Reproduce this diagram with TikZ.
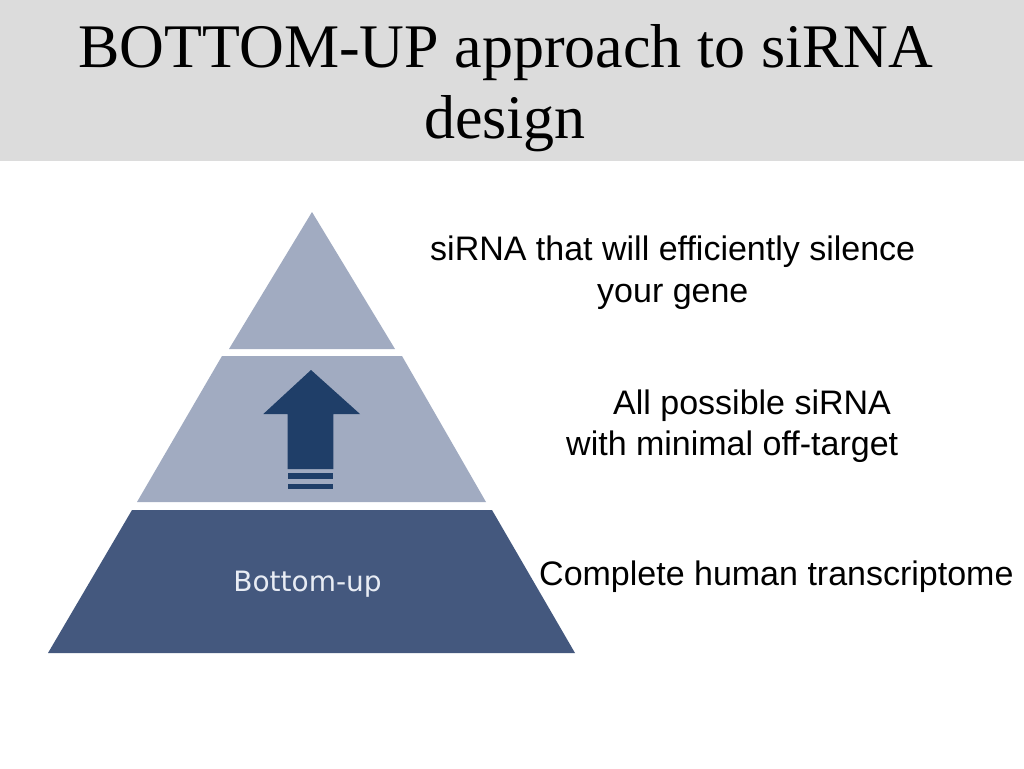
\documentclass[tikz,border=0pt]{standalone}
\usepackage{fontspec}
\setmainfont{Liberation Serif}
\newfontfamily\arialf{Liberation Sans}
\newfontfamily\dejavuf{DejaVu Sans}
\definecolor{bandgray}{RGB}{220,220,220}
\definecolor{tierlight}{RGB}{161,171,193}
\definecolor{tierdark}{RGB}{68,88,126}
\definecolor{arrowblue}{RGB}{31,62,104}
\definecolor{labelwhite}{RGB}{232,236,244}
\tikzset{
  tier/.style={draw=none},
  sidetext/.style={font=\arialf\fontsize{34}{34}\selectfont, inner sep=0pt, anchor=base west},
  titletext/.style={font=\fontsize{62}{70}\selectfont, inner sep=0pt, anchor=base},
}
\begin{document}
\begin{tikzpicture}[x=1pt,y=-1pt]
\useasboundingbox (0,0) rectangle (1024,768);
\fill[white] (0,0) rectangle (1024,768);
% title band
\fill[bandgray] (0,0) rectangle (1024,161);
\node[titletext] (title1) at (506,67) {BOTTOM-UP approach to siRNA};
\node[titletext] (title2) at (505,138) {design};
% pyramid tiers
\fill[tier, tierlight] (312,212) -- (395,349) -- (229,349) -- cycle;
\fill[tier, tierlight] (222,356) -- (402,356) -- (486,502) -- (137,502) -- cycle;
\fill[tier, tierdark] (132,510) -- (492,510) -- (575,653) -- (48,653) -- cycle;
% arrow
\fill[arrowblue] (311,370) -- (360,414) -- (333.3,414) -- (333.3,469) -- (287.7,469) -- (287.7,414) -- (263.3,414) -- cycle;
\fill[arrowblue] (287.7,473.3) rectangle (333.3,479);
\fill[arrowblue] (287.7,484) rectangle (333.3,489.3);
\node[font=\dejavuf\fontsize{28}{28}\selectfont, text=labelwhite, inner sep=0pt, anchor=base] (bu) at (307.5,591) {Bottom-up};
% side texts
\node[sidetext] (t1a) at (430,260) {siRNA that will efficiently silence};
\node[sidetext] (t1b) at (597,302) {your gene};
\node[sidetext] (t2a) at (613,414) {All possible siRNA};
\node[sidetext] (t2b) at (566,455) {with minimal off-target};
\node[sidetext] (t3) at (539,585) {Complete human transcriptome};
\end{tikzpicture}
\end{document}
